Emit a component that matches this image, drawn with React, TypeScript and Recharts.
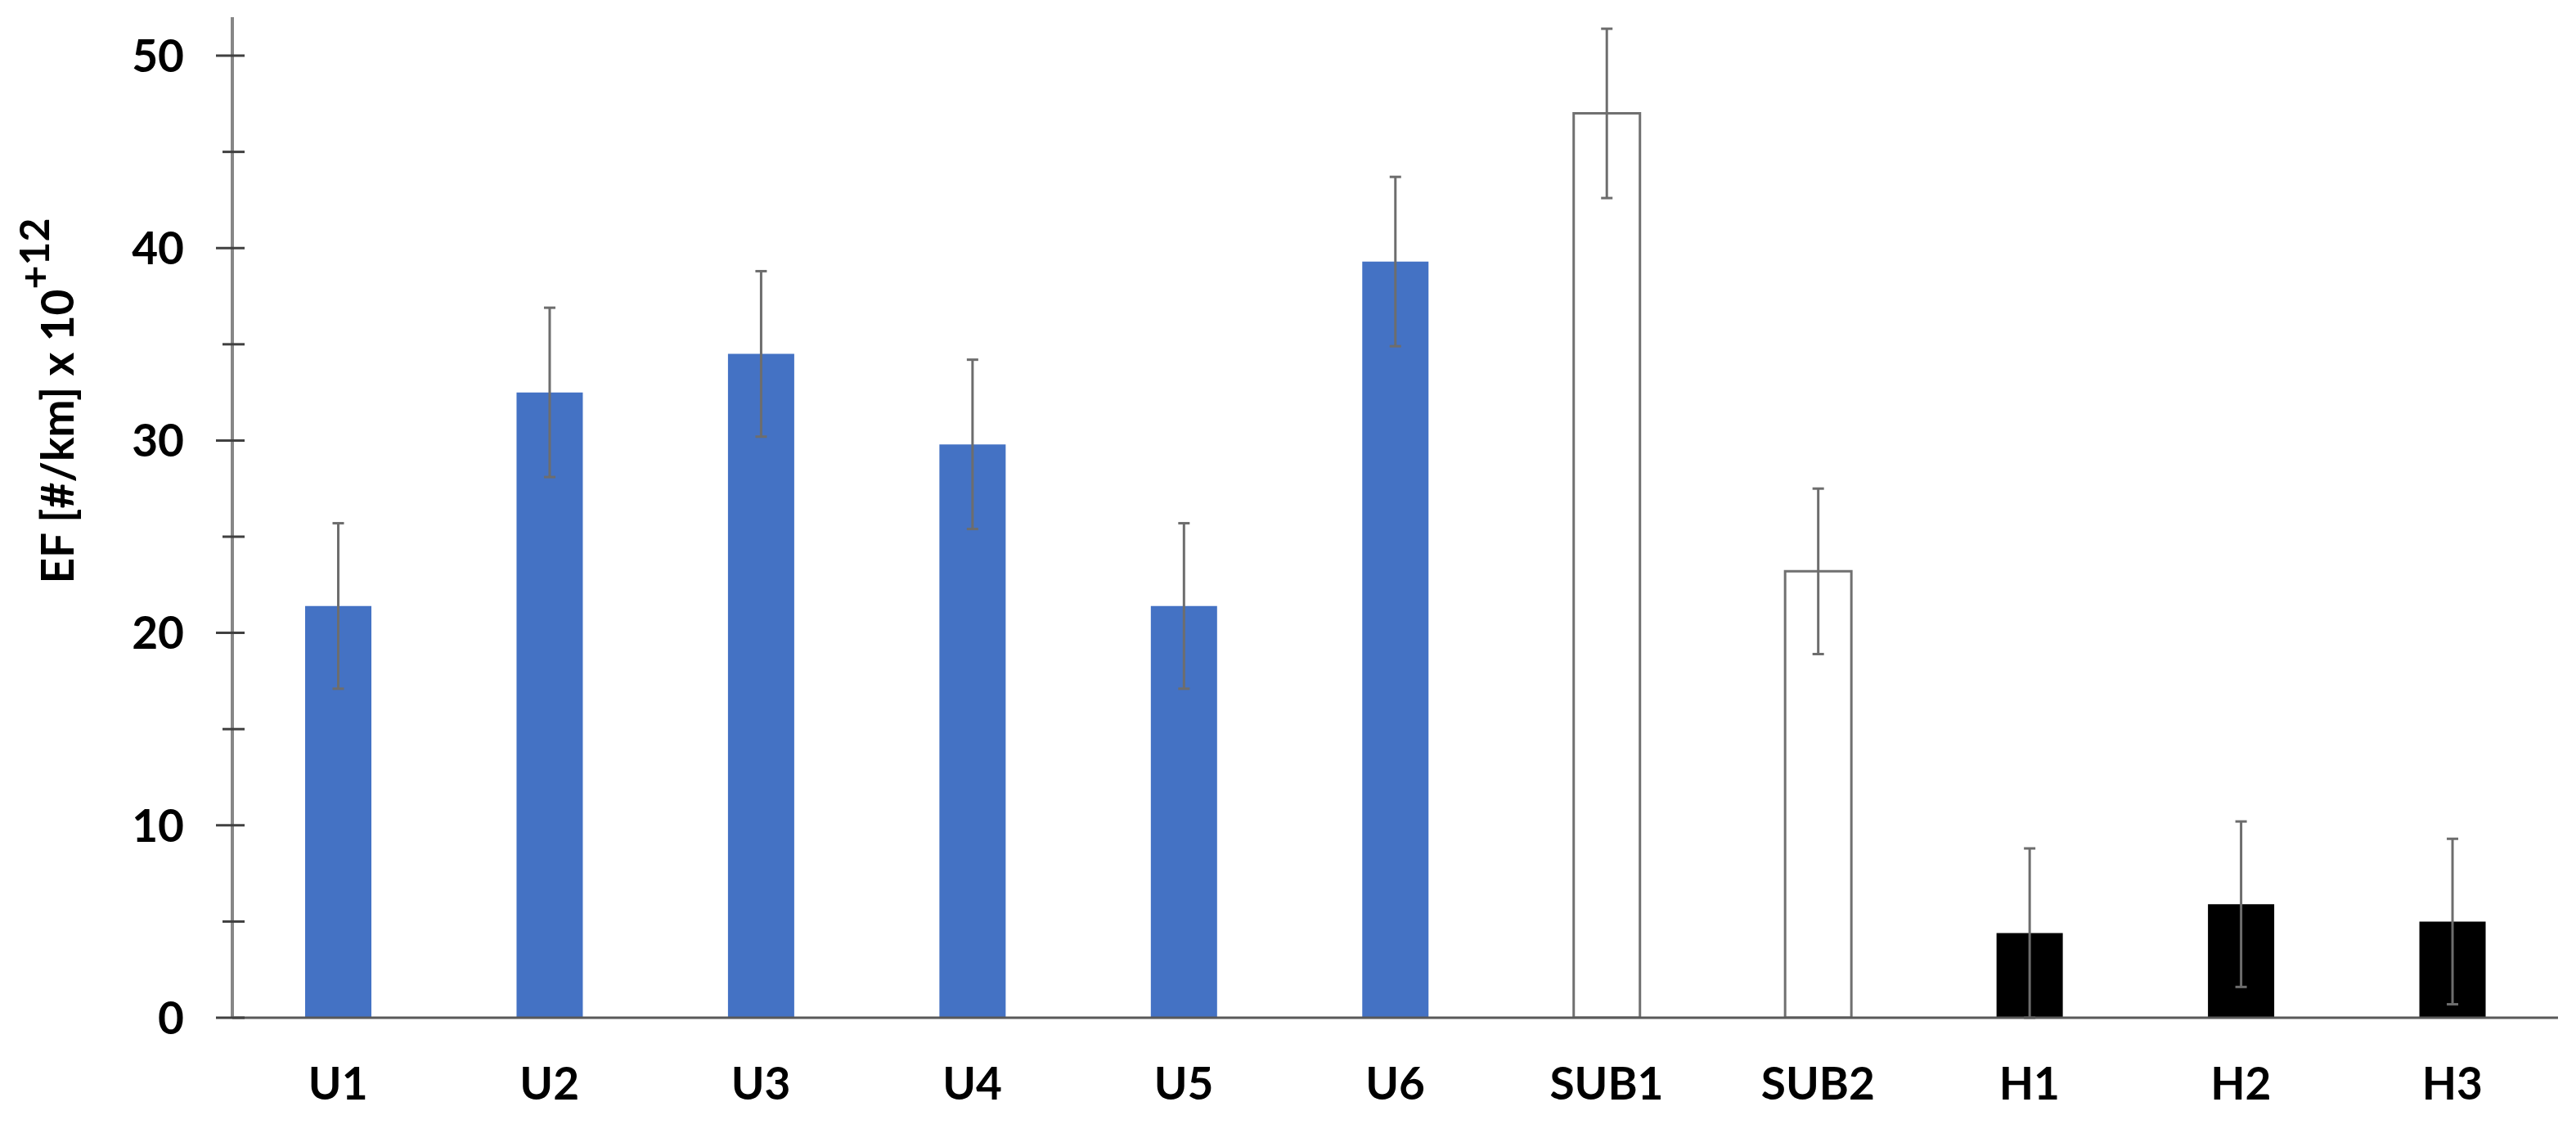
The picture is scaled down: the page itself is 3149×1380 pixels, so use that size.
import React from "react";
import { BarChart, Bar, XAxis, YAxis, Cell, ErrorBar } from "recharts";

const categories = ["U1", "U2", "U3", "U4", "U5", "U6", "SUB1", "SUB2", "H1", "H2", "H3"];
const groups = ["urban", "urban", "urban", "urban", "urban", "urban", "sub", "sub", "hwy", "hwy", "hwy"];
const efValues = [21.4, 32.5, 34.5, 29.8, 21.4, 39.3, 47.0, 23.2, 4.4, 5.9, 5.0];
const efErrors = [4.3, 4.4, 4.3, 4.4, 4.3, 4.4, 4.4, 4.3, 4.4, 4.3, 4.3];
const yTicks = [0, 5, 10, 15, 20, 25, 30, 35, 40, 45, 50];

const data = categories.map((name, i) => ({
  name,
  group: groups[i],
  ef: efValues[i],
  err: efErrors[i],
}));

const FONT = "Lato, 'Open Sans', sans-serif";

const fillFor = (g: string) => (g === "urban" ? "#4472C4" : g === "sub" ? "#ffffff" : "#000000");

function XTick(props: any) {
  const { x, y, payload } = props;
  return (
    <text
      x={x}
      y={y + 100}
      textAnchor="middle"
      fontFamily={FONT}
      fontWeight={700}
      fontSize={55}
      fill="#000"
    >
      {payload.value}
    </text>
  );
}

function YTick(props: any) {
  const { x, y, payload } = props;
  const major = payload.value % 10 === 0;
  return (
    <g>
      <line x1={x - (major ? 20 : 12)} x2={x + 15} y1={y} y2={y} stroke="#404040" strokeWidth={3} />
      {major && (
        <text
          x={x - 59}
          y={y}
          dy="0.36em"
          textAnchor="end"
          fontFamily={FONT}
          fontWeight={700}
          fontSize={55}
          fill="#000"
        >
          {payload.value}
        </text>
      )}
    </g>
  );
}

const YLabel = () => (
  <text
    transform="translate(90, 490) rotate(-90)"
    textAnchor="middle"
    fontFamily={FONT}
    fontWeight={700}
    fontSize={55}
    fill="#000"
  >
    EF [#/km] x 10
    <tspan dy={-30} fontSize={50}>
      +12
    </tspan>
  </text>
);

export default function App() {
  return (
    <div style={{ position: "absolute", left: 0, top: 0, width: 3149, height: 1380, background: "#fff" }}>
      <BarChart
        width={3149}
        height={1380}
        data={data}
        margin={{ top: 21, right: 22, bottom: 0, left: 0 }}
        barSize={81}
      >
        <XAxis
          dataKey="name"
          height={136}
          interval={0}
          axisLine={{ stroke: "#595959", strokeWidth: 3 }}
          tickLine={false}
          tickSize={0}
          tickMargin={0}
          tick={<XTick />}
        />
        <YAxis
          width={284}
          domain={[0, 52]}
          ticks={yTicks}
          interval={0}
          allowDataOverflow
          axisLine={{ stroke: "#878787", strokeWidth: 4 }}
          tickLine={false}
          tickSize={0}
          tickMargin={0}
          tick={<YTick />}
          label={{ content: () => <YLabel /> }}
        />
        <Bar dataKey="ef" isAnimationActive={false}>
          {data.map((d) => (
            <Cell
              key={d.name}
              fill={fillFor(d.group)}
              stroke={d.group === "sub" ? "#707070" : "none"}
              strokeWidth={d.group === "sub" ? 3 : 0}
            />
          ))}
          <ErrorBar dataKey="err" direction="y" width={7} strokeWidth={3} stroke="#6d6d6d" />
        </Bar>
      </BarChart>
    </div>
  );
}
